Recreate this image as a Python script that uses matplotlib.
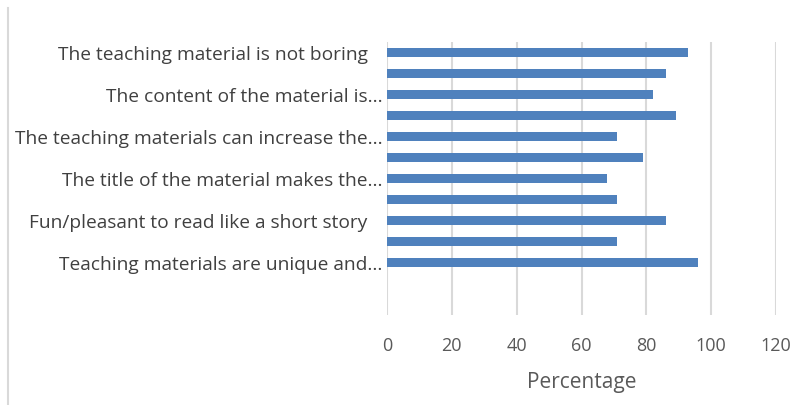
import matplotlib.pyplot as plt
import numpy as np
from matplotlib.lines import Line2D

# valores (de cima para baixo)
percent = [93, 86, 82, 89, 71, 79, 68, 71, 86, 71, 96]
labels = [
    "The teaching material is not boring   ",
    "",
    "The content of the material is...",
    "",
    "The teaching materials can increase the...",
    "",
    "The title of the material makes the...",
    "",
    "Fun/pleasant to read like a short story   ",
    "",
    "Teaching materials are unique and...",
]
x_ticks = [0, 20, 40, 60, 80, 100, 120]

plt.rcParams['font.family'] = ['Open Sans', 'DejaVu Sans']

fig = plt.figure(figsize=(8, 4.05), dpi=100)
ax = fig.add_axes([387 / 800, 1 - 315 / 405, (776 - 387) / 800, (315 - 42) / 405])

pos = np.arange(len(percent))
ax.barh(pos, percent, height=0.4, color='#4f81bd', zorder=3)

ax.set_xlim(0, 120)
ax.set_ylim(12.5, -0.5)
ax.set_xticks(x_ticks)
ax.set_xticklabels([str(t) for t in x_ticks], fontsize=13, color='#595959')
ax.set_yticks(pos)
ax.set_yticklabels(labels, fontsize=13.8, color='#404040')
ax.tick_params(axis='both', length=0)
ax.tick_params(axis='x', pad=16)
ax.tick_params(axis='y', pad=3)

ax.grid(axis='x', color='#d9d9d9', linewidth=1.5, zorder=0)
for s in ax.spines.values():
    s.set_visible(False)

ax.set_xlabel('Percentage', fontsize=15, color='#595959', labelpad=12)

# borda esquerda do quadro
fig.add_artist(Line2D([8 / 800, 8 / 800], [0, 1 - 8 / 405], color='#d9d9d9', linewidth=1.5,
                      transform=fig.transFigure))

fig.savefig('out.png', dpi=100, facecolor='white')
